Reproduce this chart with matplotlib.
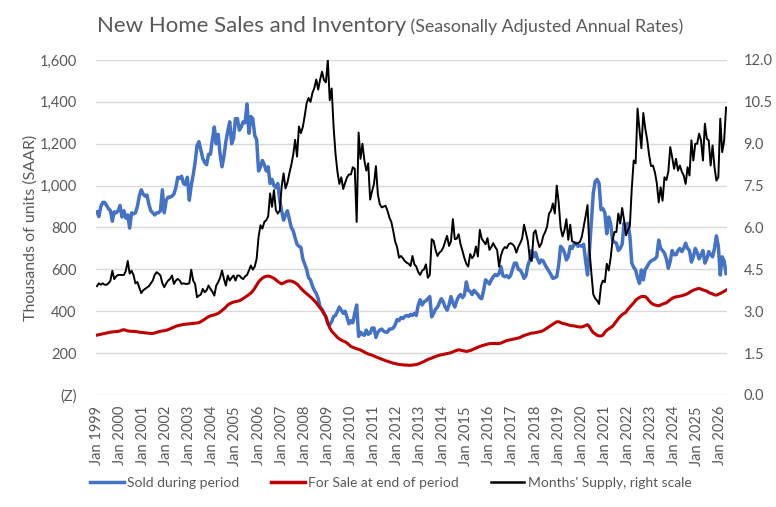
import matplotlib
matplotlib.use("Agg")
import matplotlib.pyplot as plt
from matplotlib.lines import Line2D
import numpy as np

plt.rcParams['font.family'] = ['Lato', 'DejaVu Sans']

# ---- data (monthly, Jan 1999 - Apr 2026) ----
sold = [
    875, 852, 900, 920, 920, 905, 890, 880, 830, 875, 870, 880,          # 1999
    905, 850, 880, 845, 860, 797, 870, 865, 870, 900, 950, 980,          # 2000
    960, 950, 955, 910, 880, 870, 860, 870, 870, 880, 980, 870,          # 2001
    930, 945, 945, 950, 960, 990, 1040, 1035, 1045, 1010, 1005, 1040,    # 2002
    930, 1000, 1050, 1110, 1190, 1210, 1170, 1130, 1110, 1100, 1150, 1150,  # 2003
    1220, 1280, 1200, 1245, 1150, 1090, 1140, 1210, 1260, 1305, 1200, 1225,  # 2004
    1320, 1320, 1265, 1280, 1305, 1300, 1390, 1250, 1330, 1320, 1240, 1220,  # 2005
    1070, 1090, 1120, 1100, 1070, 1090, 1010, 1030, 1000, 990, 1010, 930,  # 2006
    880, 835, 860, 880, 840, 800, 785, 750, 720, 710, 705, 650,          # 2007
    625, 600, 560, 550, 520, 500, 485, 460, 420, 410, 390, 375,          # 2008
    340, 335, 350, 375, 380, 400, 420, 405, 390, 400, 370, 340,          # 2009
    355, 345, 390, 430, 280, 300, 290, 285, 310, 290, 295, 320,          # 2010
    320, 275, 300, 310, 315, 305, 300, 300, 315, 315, 320, 335,          # 2011
    360, 355, 370, 365, 375, 380, 375, 385, 380, 390, 380, 430,          # 2012
    455, 430, 445, 450, 460, 470, 373, 390, 410, 420, 440, 460,          # 2013
    445, 420, 405, 430, 470, 440, 420, 450, 470, 480, 465, 477,          # 2014
    540, 500, 495, 480, 500, 490, 480, 465, 460, 500, 550, 540,          # 2015
    530, 550, 565, 575, 570, 580, 613, 570, 565, 570, 560, 570,          # 2016
    600, 630, 630, 600, 597, 580, 557, 570, 620, 645, 690, 660,          # 2017
    680, 650, 630, 645, 640, 620, 605, 590, 575, 557, 560, 565,          # 2018
    620, 710, 700, 680, 645, 660, 710, 700, 720, 725, 710, 715,          # 2019
    710, 720, 640, 573, 690, 830, 965, 1020, 1030, 1010, 885, 890,       # 2020
    870, 770, 850, 820, 740, 730, 725, 690, 700, 720, 820, 790,          # 2021
    820, 760, 630, 610, 597, 560, 533, 597, 550, 600, 613, 630,          # 2022
    640, 645, 650, 660, 740, 700, 690, 677, 650, 605, 640, 690,          # 2023
    670, 670, 690, 700, 685, 700, 725, 700, 690, 635, 660, 700,          # 2024
    680, 650, 670, 690, 630, 650, 685, 670, 660, 700, 760, 710,          # 2025
    573, 660, 640, 580,                                                  # 2026
]

for_sale = [
    286, 288, 290, 292, 294, 296, 298, 300, 301, 302, 303, 304,          # 1999
    306, 310, 312, 309, 306, 305, 304, 304, 303, 302, 300, 299,          # 2000
    298, 297, 296, 295, 294, 294, 296, 299, 302, 304, 306, 307,          # 2001
    309, 312, 316, 320, 324, 328, 331, 333, 335, 337, 338, 339,          # 2002
    340, 341, 342, 343, 344, 346, 350, 356, 362, 368, 374, 378,          # 2003
    380, 383, 386, 390, 396, 404, 411, 420, 430, 436, 440, 444,          # 2004
    446, 448, 450, 455, 461, 467, 473, 480, 487, 497, 510, 525,          # 2005
    540, 550, 558, 564, 567, 568, 566, 562, 557, 550, 542, 536,          # 2006
    531, 535, 540, 544, 545, 544, 541, 536, 530, 520, 510, 500,          # 2007
    492, 484, 476, 468, 460, 450, 440, 428, 416, 404, 390, 372,          # 2008
    345, 320, 305, 295, 285, 275, 268, 262, 258, 254, 248, 240,          # 2009
    232, 228, 224, 221, 218, 215, 210, 205, 200, 196, 193, 190,          # 2010
    186, 182, 178, 175, 171, 168, 164, 161, 158, 155, 152, 150,          # 2011
    148, 146, 145, 144, 143, 143, 142, 142, 143, 144, 146, 148,          # 2012
    152, 156, 160, 165, 170, 173, 176, 180, 184, 187, 190, 192,          # 2013
    194, 196, 198, 200, 202, 206, 210, 213, 216, 214, 212, 210,          # 2014
    208, 210, 212, 216, 220, 224, 228, 232, 235, 238, 240, 243,          # 2015
    245, 246, 246, 246, 245, 246, 248, 252, 256, 260, 262, 264,          # 2016
    266, 268, 270, 272, 275, 280, 284, 287, 290, 293, 296, 296,          # 2017
    298, 300, 302, 304, 308, 314, 320, 326, 332, 338, 344, 350,          # 2018
    350, 346, 342, 340, 338, 335, 332, 331, 330, 328, 326, 325,          # 2019
    325, 328, 332, 336, 326, 310, 298, 292, 285, 282, 282, 286,          # 2020
    300, 309, 316, 322, 328, 340, 352, 365, 375, 384, 390, 396,          # 2021
    410, 420, 430, 440, 452, 460, 466, 470, 471, 470, 462, 450,          # 2022
    440, 434, 430, 428, 426, 430, 434, 438, 440, 448, 455, 462,          # 2023
    466, 469, 470, 472, 474, 477, 480, 484, 490, 496, 500, 504,          # 2024
    507, 509, 506, 502, 499, 496, 490, 486, 483, 478, 477, 481,          # 2025
    485, 490, 495, 501,                                                  # 2026
]

months_supply = [
    3.9, 4.0, 3.95, 4.0, 3.95, 3.95, 4.0, 4.1, 4.45, 4.15, 4.25, 4.3,    # 1999
    4.3, 4.3, 4.3, 4.45, 4.8, 4.35, 4.45, 4.3, 4.0, 4.05, 3.85, 3.65,    # 2000
    3.75, 3.8, 3.85, 3.9, 4.0, 4.1, 4.3, 4.4, 4.35, 4.28, 4.0, 3.86,     # 2001
    4.0, 4.1, 4.16, 4.28, 3.98, 4.1, 4.16, 4.1, 3.98, 4.0, 3.98, 3.98,   # 2002
    4.0, 4.49, 4.1, 3.98, 3.5, 3.56, 3.6, 3.8, 3.68, 3.75, 3.92, 3.8,    # 2003
    3.7, 3.56, 3.92, 4.04, 4.2, 4.46, 4.16, 3.92, 4.28, 4.1, 4.2, 4.28,  # 2004
    4.1, 4.28, 4.28, 4.2, 4.15, 4.25, 4.3, 4.46, 4.64, 4.49, 4.6, 4.88,  # 2005
    5.66, 6.08, 5.96, 6.2, 6.26, 6.4, 7.22, 6.74, 7.34, 6.62, 6.5, 6.6,  # 2006
    7.46, 7.94, 7.4, 7.6, 7.94, 8.24, 8.6, 9.14, 8.54, 9.62, 9.38, 9.6,  # 2007
    10.0, 10.46, 10.64, 10.5, 10.82, 11.0, 11.3, 10.94, 11.3, 11.58, 11.28, 11.2,  # 2008
    12.0, 10.56, 10.98, 9.6, 8.64, 8.0, 7.56, 7.8, 7.38, 7.6, 7.8, 7.9,  # 2009
    7.9, 8.16, 8.1, 6.2, 9.4, 8.46, 9.0, 8.4, 8.04, 8.3, 7.0, 7.3,       # 2010
    7.56, 8.2, 7.2, 6.84, 6.72, 6.75, 6.78, 6.6, 6.36, 6.2, 5.88, 5.5,   # 2011
    5.3, 4.92, 4.98, 4.9, 4.8, 4.74, 4.7, 4.62, 4.98, 4.68, 4.6, 4.4,    # 2012
    4.3, 4.45, 4.5, 4.68, 4.2, 4.3, 5.58, 5.52, 5.2, 4.98, 5.1, 5.16,    # 2013
    5.28, 5.5, 5.7, 5.34, 5.5, 6.3, 5.58, 5.6, 5.76, 5.4, 5.16, 4.9,     # 2014
    4.7, 4.6, 5.05, 4.9, 5.0, 5.32, 4.96, 5.92, 5.6, 5.5, 5.4, 5.62,     # 2015
    5.2, 5.3, 5.44, 5.3, 5.2, 4.6, 5.0, 5.2, 5.3, 5.26, 5.4, 5.44,       # 2016
    5.4, 5.32, 5.1, 5.3, 5.44, 5.6, 6.1, 5.8, 5.5, 4.9, 4.8, 5.8,        # 2017
    5.9, 5.54, 5.3, 5.42, 5.7, 5.84, 6.04, 6.5, 6.6, 6.86, 6.5, 7.5,     # 2018
    6.9, 6.0, 5.68, 5.9, 6.3, 5.56, 6.1, 5.5, 5.48, 5.42, 5.44, 5.48,    # 2019
    5.66, 6.02, 6.4, 6.8, 5.2, 4.36, 3.6, 3.46, 3.38, 3.26, 3.92, 4.1,   # 2020
    4.04, 4.7, 4.46, 4.9, 5.54, 5.84, 5.84, 6.5, 6.14, 6.7, 6.26, 5.72,  # 2021
    5.9, 6.05, 7.4, 8.4, 8.3, 10.26, 9.5, 8.84, 10.1, 9.55, 9.15, 8.6,   # 2022
    8.2, 8.22, 7.98, 7.6, 6.9, 7.44, 6.96, 7.8, 7.7, 8.0, 8.88, 8.52,    # 2023
    8.1, 8.46, 8.04, 8.22, 8.0, 7.86, 7.56, 8.16, 7.86, 9.12, 8.4, 9.0,  # 2024
    9.0, 9.36, 9.12, 8.4, 9.72, 9.18, 9.12, 8.22, 8.94, 8.16, 7.68, 7.8, # 2025
    9.9, 8.7, 9.1, 10.3,                                                 # 2026
]

tick_years = list(range(1999, 2027))
tick_labels = [f"Jan {y}" for y in tick_years]
left_ticks = [0, 200, 400, 600, 800, 1000, 1200, 1400, 1600]
left_labels = ["(Z)", "200", "400", "600", "800", "1,000", "1,200", "1,400", "1,600"]
right_ticks = [0, 1.5, 3.0, 4.5, 6.0, 7.5, 9.0, 10.5, 12.0]

title_main = "New Home Sales and Inventory"
title_sub = " (Seasonally Adjusted Annual Rates)"
ylabel = "Thousands of units (SAAR)"
legend_labels = ["Sold during period", "For Sale at end of period", "Months' Supply, right scale"]

# ---- figure ----
W, H = 776, 507
fig = plt.figure(figsize=(W / 100, H / 100), dpi=100)
ax = fig.add_axes([96 / W, 1 - 395 / H, (727 - 96) / W, (395 - 60) / H])

n = len(sold)
x = np.arange(n)
text_col = "#595959"
grid_col = "#D9D9D9"

ax.plot(x, sold, color="#4472C4", lw=2.5, solid_joinstyle="round", zorder=3)
ax.plot(x, for_sale, color="#C00000", lw=2.2, solid_joinstyle="round", zorder=3)
ax.set_xlim(-0.5, n - 0.5)
ax.set_ylim(0, 1600)
ax.set_yticks(left_ticks)
ax.set_yticklabels(left_labels)
ax.yaxis.grid(True, color=grid_col, lw=1.0)
ax.set_axisbelow(True)
ax.set_xticks([12 * i for i in range(len(tick_years))])
ax.set_xticklabels(tick_labels, rotation=90)
ax.set_ylabel(ylabel, fontsize=11.5, color=text_col, labelpad=1)

ax2 = ax.twinx()
ax2.plot(x, months_supply, color="black", lw=1.4, solid_joinstyle="round", zorder=4)
ax2.set_ylim(0, 12)
ax2.set_yticks(right_ticks)
ax2.set_yticklabels([f"{v:.1f}" for v in right_ticks])
ax2.set_xlim(-0.5, n - 0.5)

for a in (ax, ax2):
    for s in a.spines.values():
        s.set_visible(False)
    a.tick_params(length=0, labelsize=10.5, labelcolor=text_col)
ax.tick_params(axis="y", pad=14)
ax.tick_params(axis="x", pad=8)
ax2.tick_params(axis="y", pad=12)

# title
t1 = fig.text(97 / W, 1 - 26 / H, title_main, fontsize=16, color=text_col, va="center", ha="left")
fig.canvas.draw()
bb = t1.get_window_extent(renderer=fig.canvas.get_renderer())
fig.text(bb.x1 / W, 1 - 27 / H, title_sub, fontsize=12.8, color=text_col, va="center", ha="left")

# legend
handles = [Line2D([], [], color="#4472C4", lw=2.5),
           Line2D([], [], color="#C00000", lw=2.5),
           Line2D([], [], color="black", lw=1.8)]
leg = fig.legend(handles, legend_labels, loc="center", bbox_to_anchor=(391 / W, 1 - 483 / H),
                 ncol=3, frameon=False, fontsize=10, handlelength=2.4, handletextpad=0.25,
                 columnspacing=2.3)
for t in leg.get_texts():
    t.set_color(text_col)

fig.savefig("out.png", dpi=100)
